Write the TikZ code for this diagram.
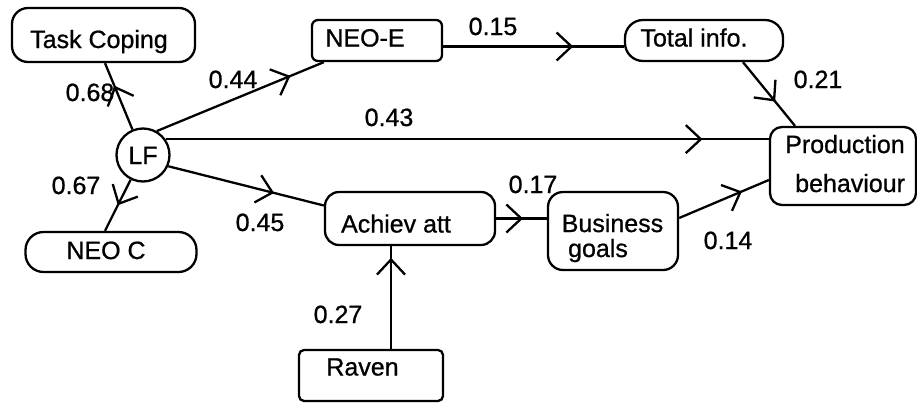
\documentclass[tikz,border=0pt]{standalone}
\usepackage{fontspec}
\setmainfont{Liberation Sans}[BoldFont={Liberation Sans},BoldFeatures={FakeBold=0.8}]
\usetikzlibrary{arrows.meta,decorations.markings}
\begin{document}
\begin{tikzpicture}[x=1pt,y=-1pt,
  every node/.style={font=\fontsize{25}{29}\selectfont\bfseries, inner sep=0pt},
  oneline/.style={text height=18pt, text depth=0pt},
  box/.style={draw, line width=2.3pt, rounded corners=#1},
  box/.default=12pt,
  conn/.style={line width=2.3pt},
  midarrow/.style={postaction={decorate}, decoration={markings,
    mark=at position #1 with {\arrow[line width=2.3pt]{Straight Barb[length=15pt,width=28pt]}}}},
  lbl/.style={oneline}
]
\useasboundingbox (0,0) rectangle (917,402);

% nodes
\node[box=16pt, oneline, minimum width=183pt, minimum height=54pt] (tc) at (103.5,35)
  {\raisebox{-4pt}{Task Coping}\hspace*{9pt}};
\node[box=6pt, oneline, minimum width=130pt, minimum height=41pt] (neoe) at (377,40.5)
  {\raisebox{3pt}{NEO-E}\hspace*{24pt}};
\node[box=18pt, oneline, minimum width=158pt, minimum height=41pt] (total) at (704,40.5)
  {\raisebox{3pt}{Total info.}\hspace*{20pt}};
\node[draw, line width=2.3pt, circle, oneline, minimum size=53pt] (lf) at (143,155) {LF};
\node[box=18pt, oneline, minimum width=171pt, minimum height=40pt] (neoc) at (111,252)
  {\raisebox{2pt}{NEO C}\hspace*{10pt}};
\node[box=12pt, minimum width=146pt, minimum height=78pt] (prod) at (843,166) {};
\node[anchor=base west] (prodt1) at (785,153) {Production};
\node[anchor=base west] (prodt2) at (795,192) {behaviour};
\node[box=14pt, oneline, minimum width=170pt, minimum height=53pt] (achiev) at (410,218.5)
  {\raisebox{-5pt}{Achiev att}\hspace*{28pt}};
\node[box=15pt, minimum width=130pt, minimum height=78pt] (bg) at (613,231) {};
\node[anchor=base] (bgt1) at (612.5,232) {Business};
\node[anchor=base] (bgt2) at (598,257) {goals};
\node[box=5pt, oneline, minimum width=144pt, minimum height=51pt] (raven) at (371,375.5)
  {\raisebox{9pt}{Raven}\hspace*{17pt}};

% connectors
\draw[conn, midarrow=0.66] (lf) -- ([xshift=1.5pt]tc.south);
\draw[conn, midarrow=0.5] (lf) -- ([xshift=-6pt]neoc.north);
\draw[conn, midarrow=0.80] (lf.60) -- ([xshift=13pt]neoe.south west);
\draw[conn, midarrow=0.89] (lf.35) -- (lf.35 -| prod.west);
\draw[conn, midarrow=0.68] (lf.-24) -- ([yshift=13pt]achiev.west);
\draw[conn, midarrow=0.72] ([yshift=-6pt]neoe.east) -- ([yshift=-6pt]total.west);
\draw[conn, midarrow=0.62] ([xshift=39pt]total.south) -- ([xshift=-48pt]prod.north);
\draw[conn, midarrow=0.53] (achiev.east) -- (achiev.east -| bg.west);
\draw[conn, midarrow=0.70] ([yshift=13pt]bg.east) -- ([yshift=-14pt]prod.west);
\coordinate (rv) at ([xshift=20pt]raven.north);
\draw[conn, midarrow=0.886] (rv) -- (rv |- achiev.south);

% labels
\node[lbl] (l068) at (90,92) {0.68};
\node[lbl] (l044) at (233,79) {0.44};
\node[lbl] (l067) at (76,185) {0.67};
\node[lbl] (l045) at (260,222) {0.45};
\node[lbl] (l015) at (493,26) {0.15};
\node[lbl] (l043) at (389,117) {0.43};
\node[lbl] (l021) at (818,79) {0.21};
\node[lbl] (l017) at (533,184) {0.17};
\node[lbl] (l014) at (728,240) {0.14};
\node[lbl] (l027) at (338,314) {0.27};
\end{tikzpicture}
\end{document}
